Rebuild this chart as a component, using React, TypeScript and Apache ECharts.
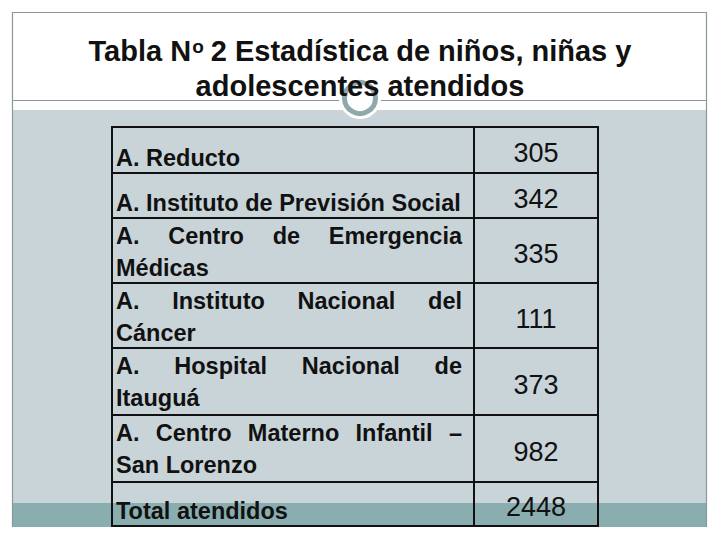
import React, { useEffect, useRef } from "react";
import * as echarts from "echarts";

// ---- data ----
const titleLine1Parts = ["Tabla N", "o", " 2 Estadística de niños, niñas y"];
const titleLine2 = "adolescentes atendidos";
const categories = [
  "A. Reducto",
  "A. Instituto de Previsión Social",
  "A. Centro de Emergencia Médicas",
  "A. Instituto Nacional del Cáncer",
  "A. Hospital Nacional de Itauguá",
  "A. Centro Materno Infantil – San Lorenzo",
  "Total atendidos",
];
const values = [305, 342, 335, 111, 373, 982, 2448];

// ---- layout ----
const FAMILY = '"Liberation Sans", Arial, sans-serif';
const rowEdges = [127, 173, 218, 283, 348, 415, 482, 526];
const TABLE_L = 112;
const TABLE_R = 598;
const DIVIDER = 474;
const TEXT_L = 116;
const TEXT_R = 462;
const WRAP_LIMIT = 348;
const LABEL_SIZE = 23.5;
const NUM_SIZE = 27;
const TITLE_SIZE = 29;

let measureCtx: CanvasRenderingContext2D | null = null;
function measure(text: string, size: number, weight: string) {
  if (!measureCtx) {
    const c = document.createElement("canvas");
    measureCtx = c.getContext("2d");
  }
  measureCtx!.font = `${weight} ${size}px "Liberation Sans", Arial, sans-serif`;
  return measureCtx!.measureText(text).width;
}

function wrap(text: string): string[] {
  const words = text.split(" ");
  const lines: string[] = [];
  let cur = "";
  for (const w of words) {
    const t = cur ? cur + " " + w : w;
    if (cur && measure(t, LABEL_SIZE, "bold") > WRAP_LIMIT) {
      lines.push(cur);
      cur = w;
    } else cur = t;
  }
  if (cur) lines.push(cur);
  return lines;
}

function txt(text: string, x: number, y: number, size: number, weight: string, align: string, z = 10) {
  return {
    type: "text",
    z,
    silent: true,
    style: {
      text,
      x,
      y,
      fill: "#111",
      fontSize: size,
      fontWeight: weight,
      fontFamily: FAMILY,
      textAlign: align,
      textVerticalAlign: "middle",
      align,
      verticalAlign: "middle",
    },
  };
}

function buildGraphic() {
  const els: any[] = [];
  const line = (x1: number, y1: number, x2: number, y2: number, stroke: string, w: number, z = 5) => ({
    type: "line",
    z,
    silent: true,
    shape: { x1, y1, x2, y2 },
    style: { stroke, lineWidth: w },
  });
  // slide background bands
  els.push({ type: "rect", z: 1, silent: true, shape: { x: 12, y: 110, width: 695, height: 393 }, style: { fill: "#c9d4d9" } });
  els.push({ type: "rect", z: 1, silent: true, shape: { x: 12, y: 503, width: 695, height: 24 }, style: { fill: "#8aaeb0" } });
  // frame lines
  els.push(line(12, 12.5, 707, 12.5, "#8c979b", 1.2));
  els.push(line(12.5, 12, 12.5, 527, "#8c979b", 1.2));
  els.push(line(706.5, 12, 706.5, 527, "#8c979b", 1.2));
  els.push(line(12, 100.5, 707, 100.5, "#8c979b", 1.2));
  // decorative circle
  els.push({ type: "circle", z: 6, silent: true, shape: { cx: 360, cy: 98, r: 21 }, style: { fill: "#ffffff" } });
  els.push({ type: "circle", z: 7, silent: true, shape: { cx: 360, cy: 98, r: 15.5 }, style: { fill: "#ffffff", stroke: "#8fa8aa", lineWidth: 5 } });

  // title line 1
  const w0 = measure(titleLine1Parts[0], TITLE_SIZE, "bold");
  const w1 = measure(titleLine1Parts[1], 19, "bold");
  const w2 = measure(titleLine1Parts[2], TITLE_SIZE, "bold");
  let x = 360 - (w0 + w1 + w2) / 2;
  els.push(txt(titleLine1Parts[0], x, 51, TITLE_SIZE, "bold", "left", 10));
  x += w0;
  els.push(txt(titleLine1Parts[1], x + 1, 46, 19, "bold", "left", 10));
  x += w1;
  els.push(txt(titleLine1Parts[2], x, 51, TITLE_SIZE, "bold", "left", 10));
  els.push(txt(titleLine2, 360, 86, TITLE_SIZE, "bold", "center", 10));

  // table borders
  els.push({
    type: "rect",
    z: 8,
    silent: true,
    shape: { x: TABLE_L, y: rowEdges[0], width: TABLE_R - TABLE_L, height: rowEdges[rowEdges.length - 1] - rowEdges[0] },
    style: { fill: "none", stroke: "#111", lineWidth: 2 },
  });
  els.push(line(DIVIDER, rowEdges[0], DIVIDER, rowEdges[rowEdges.length - 1], "#111", 2, 8));
  for (let i = 1; i < rowEdges.length - 1; i++) {
    els.push(line(TABLE_L, rowEdges[i], TABLE_R, rowEdges[i], "#111", 2, 8));
  }

  // cells
  categories.forEach((cat, i) => {
    const top = rowEdges[i];
    const bottom = rowEdges[i + 1];
    const lines = wrap(cat);
    lines.forEach((ln, li) => {
      const y = lines.length === 1 ? bottom - 15 : top + 18 + li * 32;
      const isLast = li === lines.length - 1;
      if (isLast) {
        els.push(txt(ln, TEXT_L, y, LABEL_SIZE, "bold", "left"));
      } else {
        const words = ln.split(" ");
        const widths = words.map((w) => measure(w, LABEL_SIZE, "bold"));
        const total = widths.reduce((a, b) => a + b, 0);
        const gap = (TEXT_R - TEXT_L - total) / (words.length - 1);
        let wx = TEXT_L;
        words.forEach((w, wi) => {
          els.push(txt(w, wx, y, LABEL_SIZE, "bold", "left"));
          wx += widths[wi] + gap;
        });
      }
    });
    els.push(txt(String(values[i]), (DIVIDER + TABLE_R) / 2, (top + bottom) / 2 + 3, NUM_SIZE, "normal", "center"));
  });
  return els;
}

export default function App() {
  const ref = useRef<HTMLDivElement>(null);
  useEffect(() => {
    if (!ref.current) return;
    const chart = echarts.init(ref.current, undefined, { renderer: "svg" });
    chart.setOption({
      animation: false,
      backgroundColor: "#ffffff",
      graphic: { elements: buildGraphic() },
    });
    return () => chart.dispose();
  }, []);
  return (
    <div
      ref={ref}
      style={{ position: "fixed", left: 0, top: 0, width: 720, height: 540, background: "#fff" }}
    />
  );
}
